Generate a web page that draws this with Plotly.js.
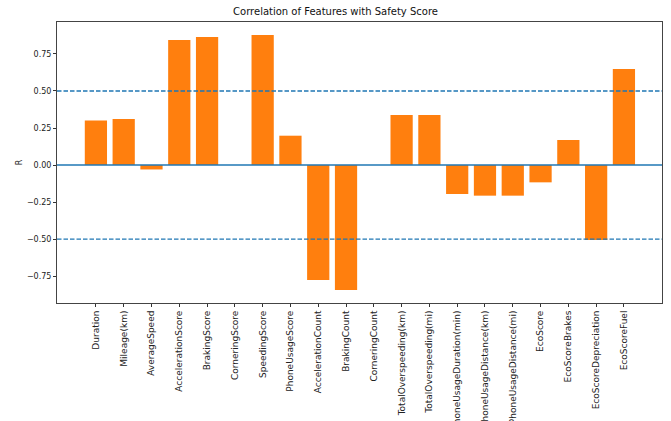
<!DOCTYPE html>
<html>
<head>
<meta charset="utf-8">
<script src="https://cdn.plot.ly/plotly-3.0.1.min.js"></script>
<style>body{margin:0;background:#fff}</style>
</head>
<body>
<div id="chart" style="width:671px;height:421px"></div>
<script>
const features = ["Duration","Mileage(km)","AverageSpeed","AccelerationScore","BrakingScore","CorneringScore","SpeedingScore","PhoneUsageScore","AccelerationCount","BrakingCount","CorneringCount","TotalOverspeeding(km)","TotalOverspeeding(mi)","PhoneUsageDuration(min)","PhoneUsageDistance(km)","PhoneUsageDistance(mi)","EcoScore","EcoScoreBrakes","EcoScoreDepreciation","EcoScoreFuel"];
const correlation = [0.30,0.31,-0.03,0.845,0.865,null,0.878,0.198,-0.777,-0.845,null,0.338,0.338,-0.196,-0.207,-0.207,-0.117,0.169,-0.507,0.649];
const threshold = 0.5;
const yTicks = [-0.75,-0.5,-0.25,0,0.25,0.5,0.75];

const trace = {
  type: 'bar',
  x: features,
  y: correlation,
  width: 0.8,
  marker: {color: '#ff7f0e', line: {width: 0}},
  hoverinfo: 'x+y'
};

const lineStyle = (dash) => ({color: '#1f77b4', width: 1.3, dash: dash});
const shapes = [
  {type:'line', xref:'paper', x0:0, x1:1, yref:'y', y0:0, y1:0, line: lineStyle('solid'), layer:'above'},
  {type:'line', xref:'paper', x0:0, x1:1, yref:'y', y0:threshold, y1:threshold, line: lineStyle('4.5px,2px'), layer:'above'},
  {type:'line', xref:'paper', x0:0, x1:1, yref:'y', y0:-threshold, y1:-threshold, line: lineStyle('4.5px,2px'), layer:'above'}
];

const layout = {
  width: 671, height: 421,
  margin: {l: 57, r: 9, t: 22, b: 118},
  paper_bgcolor: '#fff', plot_bgcolor: '#fff',
  font: {family: 'DejaVu Sans', size: 8, color: '#222'},
  title: {text: 'Correlation of Features with Safety Score', font: {size: 10, color: '#111'}, x: 0.5, xanchor: 'center', yref: 'container', y: 0.972, yanchor: 'middle'},
  showlegend: false,
  bargap: 0.2,
  xaxis: {
    type: 'category',
    range: [-1.4, 20.37],
    tickangle: -90,
    ticks: 'outside', ticklen: 3, tickcolor: '#333', tickwidth: 1,
    showline: true, mirror: true, linecolor: '#444', linewidth: 1,
    showgrid: false, zeroline: false,
    tickfont: {size: 9, color: '#222'}
  },
  yaxis: {
    range: [-0.932, 0.966],
    tickvals: yTicks,
    tickformat: '.2f',
    ticks: 'outside', ticklen: 3, tickcolor: '#333', tickwidth: 1,
    showline: true, mirror: true, linecolor: '#444', linewidth: 1,
    showgrid: false, zeroline: false,
    tickfont: {size: 8, color: '#222'},
    title: {text: 'R', font: {size: 8, color: '#222'}, standoff: 3}
  },
  shapes: shapes
};

Plotly.newPlot('chart', [trace], layout, {displayModeBar: false, staticPlot: true});
</script>
</body>
</html>
